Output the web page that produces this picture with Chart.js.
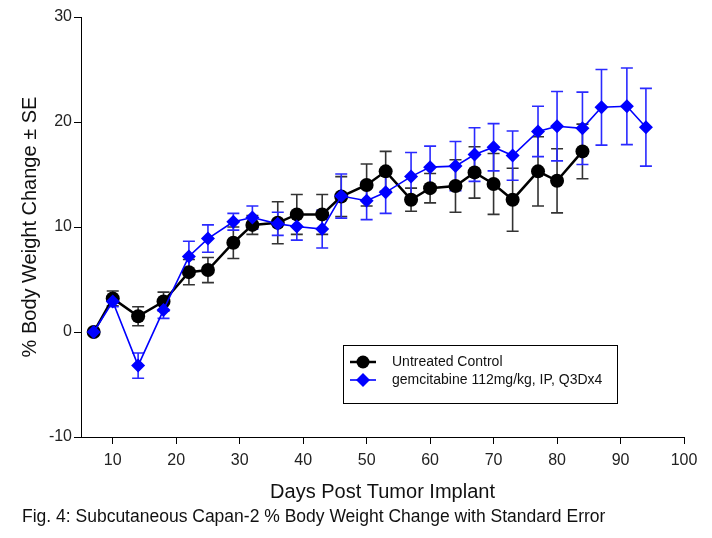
<!DOCTYPE html>
<html lang="en">
<head>
  <meta charset="UTF-8">
  <title>Capan-2 Body Weight Change</title>
  <script src="https://cdn.jsdelivr.net/npm/chart.js@4.4.0/dist/chart.umd.min.js"></script>
</head>
<style>
* {
  margin: 0;
  padding: 0;
}
body {
  background: #fff;
  font-family: "Liberation Sans", Arial, sans-serif;
}
.wrap {
  position: relative;
  width: 712px;
  height: 538px;
}
</style>
<body>
<div class="wrap">
  <canvas id="chart" width="712" height="538"></canvas>
</div>
<script>
const days = [7, 10, 14, 18, 22, 25, 29, 32, 36, 39, 43, 46, 50, 53, 57, 60, 64, 67, 70, 73, 77, 80, 84, 87, 91, 94];

const controlMean = [0, 3.2, 1.5, 2.9, 5.7, 5.9, 8.5, 10.2, 10.4, 11.2, 11.2, 12.9, 14.0, 15.3, 12.6, 13.7, 13.9, 15.2, 14.1, 12.6, 15.3, 14.4, 17.2];
const controlSE = [0, 0.7, 0.9, 0.9, 1.2, 1.2, 1.5, 0.9, 2.0, 1.9, 1.9, 1.9, 2.0, 1.9, 1.1, 1.4, 2.5, 2.45, 2.9, 3.0, 3.3, 3.05, 2.6];

const gemMean = [0, 2.9, -3.2, 2.1, 7.2, 8.9, 10.5, 10.9, 10.3, 10.05, 9.8, 12.95, 12.5, 13.3, 14.8, 15.7, 15.8, 16.9, 17.6, 16.8, 19.1, 19.6, 19.4, 21.4, 21.5, 19.5];
const gemSE = [0, 0.5, 1.2, 0.8, 1.45, 1.3, 0.8, 1.1, 1.1, 1.3, 1.8, 2.1, 1.8, 2.0, 2.3, 2.0, 2.35, 2.55, 2.25, 2.35, 2.4, 3.3, 3.45, 3.6, 3.65, 3.7];

const seriesNames = ["Untreated Control", "gemcitabine 112mg/kg, IP, Q3Dx4"];
const xTicks = [10, 20, 30, 40, 50, 60, 70, 80, 90, 100];
const yTicks = [-10, 0, 10, 20, 30];
const caption = "Fig. 4: Subcutaneous Capan-2 % Body Weight Change with Standard Error";

const FONT = "'Liberation Sans', Arial, sans-serif";

const toPoints = (mean) => mean.map((v, i) => ({ x: days[i], y: v }));

// error bars under the markers
const errorBars = {
  id: "errorBars",
  beforeDatasetsDraw(chart) {
    const { ctx, scales: { x, y } } = chart;
    chart.data.datasets.forEach((ds) => {
      ctx.save();
      ctx.strokeStyle = ds.errColor;
      ctx.lineWidth = 1.6;
      ds.data.forEach((p, i) => {
        const se = ds.se[i];
        if (!se) return;
        const px = x.getPixelForValue(p.x);
        const top = y.getPixelForValue(p.y + se);
        const bot = y.getPixelForValue(p.y - se);
        ctx.beginPath();
        ctx.moveTo(px, top);
        ctx.lineTo(px, bot);
        ctx.moveTo(px - 6, top);
        ctx.lineTo(px + 6, top);
        ctx.moveTo(px - 6, bot);
        ctx.lineTo(px + 6, bot);
        ctx.stroke();
      });
      ctx.restore();
    });
  }
};

// boxed legend and figure caption
const extras = {
  id: "extras",
  afterDraw(chart) {
    const { ctx } = chart;
    ctx.save();
    ctx.strokeStyle = "#000";
    ctx.lineWidth = 1;
    ctx.strokeRect(343.5, 345.5, 274, 58);
    const rows = [362, 380];
    chart.data.datasets.forEach((ds, i) => {
      const yy = rows[i];
      ctx.strokeStyle = ds.borderColor;
      ctx.lineWidth = ds.borderWidth;
      ctx.beginPath();
      ctx.moveTo(350, yy);
      ctx.lineTo(376, yy);
      ctx.stroke();
      ctx.fillStyle = ds.pointBackgroundColor;
      ctx.beginPath();
      if (ds.pointStyle === "circle") {
        ctx.arc(363, yy, 6.5, 0, Math.PI * 2);
      } else {
        ctx.moveTo(363, yy - 7);
        ctx.lineTo(370, yy);
        ctx.lineTo(363, yy + 7);
        ctx.lineTo(356, yy);
        ctx.closePath();
      }
      ctx.fill();
      ctx.fillStyle = "#111";
      ctx.font = "14px " + FONT;
      ctx.textBaseline = "middle";
      ctx.fillText(ds.label, 392, yy);
    });
    ctx.font = "17.5px " + FONT;
    ctx.fillStyle = "#111";
    ctx.textBaseline = "middle";
    ctx.fillText(caption, 22, 517);
    ctx.restore();
  }
};

new Chart(document.getElementById("chart"), {
  type: "line",
  plugins: [errorBars, extras],
  data: {
    datasets: [
      {
        label: seriesNames[0],
        data: toPoints(controlMean),
        se: controlSE,
        errColor: "#333",
        borderColor: "#000",
        borderWidth: 2.5,
        pointStyle: "circle",
        pointRadius: 7,
        pointBackgroundColor: "#000",
        pointBorderColor: "#000",
        pointBorderWidth: 0,
        order: 2
      },
      {
        label: seriesNames[1],
        data: toPoints(gemMean),
        se: gemSE,
        errColor: "#2a2aff",
        borderColor: "#0000ff",
        borderWidth: 1.6,
        pointStyle: "rectRot",
        pointRadius: 7,
        pointBackgroundColor: "#0000ff",
        pointBorderColor: "#0000ff",
        pointBorderWidth: 0,
        order: 1
      }
    ]
  },
  options: {
    responsive: false,
    animation: false,
    layout: { padding: { top: 17, right: 28, bottom: 0, left: 0 } },
    plugins: {
      legend: { display: false },
      tooltip: { enabled: false }
    },
    scales: {
      x: {
        type: "linear",
        min: 5,
        max: 100,
        afterFit: (s) => { s.height = 101; },
        afterBuildTicks: (s) => { s.ticks = xTicks.map((v) => ({ value: v })); },
        grid: { drawOnChartArea: false, tickLength: 7, color: "#000" },
        border: { color: "#000", width: 1 },
        ticks: { color: "#222", font: { family: FONT, size: 16 }, padding: 7, maxRotation: 0 },
        title: {
          display: true,
          text: "Days Post Tumor Implant",
          color: "#111",
          font: { family: FONT, size: 20 },
          padding: { top: 0, bottom: 34 }
        }
      },
      y: {
        min: -10,
        max: 30,
        afterFit: (s) => { s.width = 81; },
        afterBuildTicks: (s) => { s.ticks = yTicks.map((v) => ({ value: v })); },
        grid: { drawOnChartArea: false, tickLength: 7, color: "#000" },
        border: { color: "#000", width: 1 },
        ticks: { color: "#222", font: { family: FONT, size: 16 }, padding: 2 },
        title: {
          display: true,
          text: "% Body Weight Change ± SE",
          color: "#111",
          font: { family: FONT, size: 20 },
          padding: { top: 18, bottom: 0 }
        }
      }
    }
  }
});
</script>
</body>
</html>
